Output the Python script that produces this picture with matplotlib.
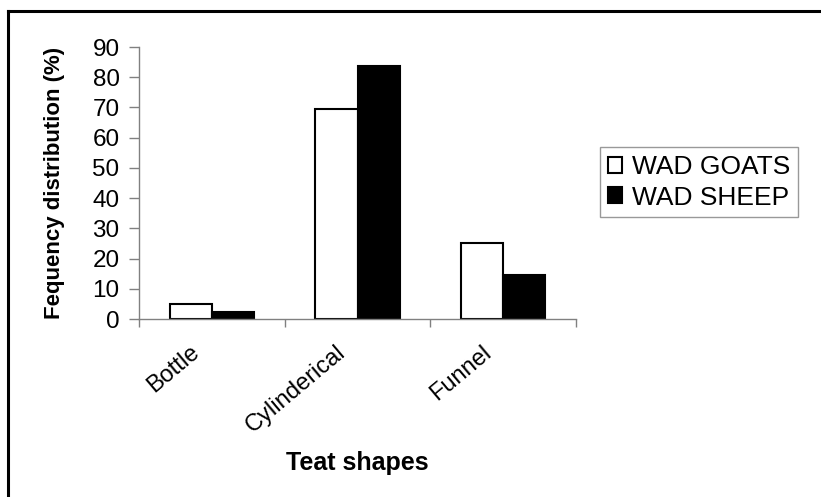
import numpy as np
import matplotlib.pyplot as plt
from matplotlib.lines import Line2D
import matplotlib.transforms as mtransforms

# данные
shapes = ['Bottle', 'Cylinderical', 'Funnel']
goats = [5.0, 69.6, 25.2]
sheep = [2.4, 83.8, 14.5]

plt.rcParams['font.family'] = ['Liberation Sans', 'DejaVu Sans']

fig = plt.figure(figsize=(8.21, 4.97), dpi=100)
ax = fig.add_axes([0.1693, 0.3581, 0.7016 - 0.1693, 0.9054 - 0.3581])

x = np.arange(len(shapes))
w = 0.29
ax.bar(x - w / 2, goats, w, color='white', edgecolor='black', linewidth=1.5, label='WAD GOATS')
ax.bar(x + w / 2, sheep, w, color='black', edgecolor='black', linewidth=1.5, label='WAD SHEEP')

ax.set_xlim(-0.5, len(shapes) - 0.5)
ax.set_ylim(0, 90)
ax.set_yticks(np.arange(0, 91, 10))
ax.tick_params(axis='y', labelsize=17.5, length=7, width=1, color='#808080', pad=7)

# деления по границам категорий, подписи по центрам
ax.set_xticks(np.arange(-0.5, len(shapes)), minor=False)
ax.set_xticklabels([])
ax.set_xticks(x, minor=True)
ax.set_xticklabels(shapes, minor=True, rotation=40, ha='right', va='center',
                   rotation_mode='anchor', fontsize=17)
ax.tick_params(axis='x', which='major', length=6, width=1, color='#808080')
ax.tick_params(axis='x', which='minor', length=0, pad=22)
offset = mtransforms.ScaledTranslation(-0.15, 0, fig.dpi_scale_trans)
for lbl in ax.get_xticklabels(minor=True):
    lbl.set_transform(lbl.get_transform() + offset)

for s in ['top', 'right']:
    ax.spines[s].set_visible(False)
for s in ['left', 'bottom']:
    ax.spines[s].set_color('#808080')
    ax.spines[s].set_linewidth(1)

ax.set_ylabel('Fequency distribution (%)', fontsize=16, fontweight='bold', labelpad=20)
fig.text(0.435, 0.055, 'Teat shapes', fontsize=18, fontweight='bold', ha='center')

leg = ax.legend(loc='upper left', bbox_to_anchor=(600 / 821, 1 - 147 / 497), bbox_transform=fig.transFigure,
                fontsize=19, frameon=True, fancybox=False, edgecolor='#808080',
                handlelength=0.55, handleheight=0.55, handletextpad=0.35, borderpad=0.3,
                labelspacing=0.25, borderaxespad=0)
leg.get_frame().set_linewidth(1)

# рамка диаграммы (видны только верх и левый край)
fig.add_artist(Line2D([7.5 / 821, 1], [1 - 10.5 / 497, 1 - 10.5 / 497], color='black', lw=2.2,
                      transform=fig.transFigure))
fig.add_artist(Line2D([7.5 / 821, 7.5 / 821], [0, 1 - 10.5 / 497], color='black', lw=2.2,
                      transform=fig.transFigure))

plt.savefig('out.png', dpi=100)
